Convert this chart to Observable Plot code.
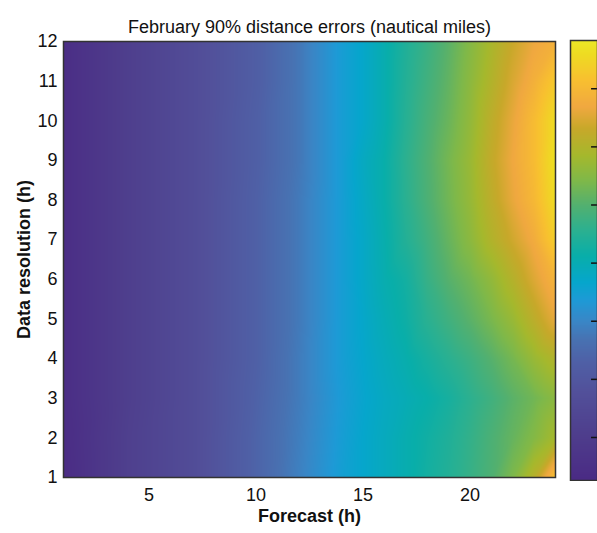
<!DOCTYPE html>
<html>
<head>
<meta charset="utf-8">
<script src="https://cdn.jsdelivr.net/npm/d3@7"></script>
<script src="https://cdn.jsdelivr.net/npm/@observablehq/plot@0.6"></script>
<style>
  html, body { margin: 0; padding: 0; background: #fff; }
  #chart { position: relative; width: 597px; height: 533px; overflow: hidden; }
  #chart svg { position: absolute; }
</style>
</head>
<body>
<div id="chart"></div>
<script>
// ---- data ----
const chartTitle = "February 90% distance errors (nautical miles)";
const xLabel = "Forecast (h)";
const yLabel = "Data resolution (h)";

const forecastHours = [1, 4, 7, 10, 12, 14, 15, 16, 17, 18, 19, 20, 21, 22, 23, 24];
const resolutionHours = [1, 2, 3, 4, 5, 6, 7, 8, 9, 10, 11, 12];

// one row per data resolution (1 h ... 12 h), one value per forecast hour
const errorsRes1  = [13.4, 21.3, 26.2, 33.8, 39.1, 44.8, 46.7, 48.6, 50.5, 52.7, 54.6, 56.9, 59.5, 64.1, 70.9, 82.2];
const errorsRes2  = [13.7, 21.3, 26.2, 33.8, 38.7, 44.4, 46.7, 48.6, 50.5, 52.3, 54.2, 56.5, 59.2, 61.8, 64.8, 68.6];
const errorsRes3  = [14.1, 20.9, 26.2, 33.4, 38.3, 44.0, 46.3, 48.2, 49.7, 51.2, 53.1, 55.7, 58.0, 60.7, 62.9, 65.6];
const errorsRes4  = [14.1, 20.9, 26.2, 33.0, 38.3, 44.4, 46.7, 48.9, 50.8, 53.1, 55.4, 57.6, 60.3, 63.3, 67.1, 70.1];
const errorsRes5  = [14.1, 20.9, 26.2, 33.0, 38.0, 44.4, 47.0, 49.7, 52.0, 55.4, 58.0, 60.7, 63.7, 67.1, 71.6, 76.2];
const errorsRes6  = [14.1, 20.9, 26.2, 33.0, 38.0, 44.4, 47.4, 50.5, 52.7, 56.9, 60.3, 62.9, 66.3, 70.5, 75.1, 79.2];
const errorsRes7  = [14.1, 20.9, 26.2, 33.0, 38.0, 44.4, 47.4, 50.8, 54.6, 58.0, 61.8, 65.6, 70.1, 73.9, 77.7, 83.8];
const errorsRes8  = [14.1, 20.9, 26.2, 33.0, 38.0, 44.4, 47.8, 51.2, 55.4, 59.2, 62.9, 66.7, 71.6, 76.2, 80.0, 86.0];
const errorsRes9  = [14.1, 20.9, 26.2, 32.7, 37.6, 44.4, 48.2, 51.2, 55.7, 59.5, 63.3, 67.1, 72.4, 76.9, 80.7, 86.8];
const errorsRes10 = [14.1, 20.9, 26.2, 32.7, 37.6, 44.4, 47.0, 50.5, 55.0, 58.8, 62.2, 66.3, 71.6, 76.2, 80.7, 86.0];
const errorsRes11 = [14.1, 20.9, 26.2, 32.3, 37.6, 44.4, 47.0, 50.5, 54.6, 58.0, 61.4, 65.6, 70.1, 74.7, 78.5, 83.0];
const errorsRes12 = [14.1, 20.9, 26.2, 32.3, 37.6, 44.4, 47.0, 50.5, 54.2, 57.3, 60.7, 64.8, 69.0, 73.2, 76.6, 78.5];
const errorRows = [errorsRes1, errorsRes2, errorsRes3, errorsRes4, errorsRes5, errorsRes6,
                   errorsRes7, errorsRes8, errorsRes9, errorsRes10, errorsRes11, errorsRes12];

const xTicks = [5, 10, 15, 20];
const yTicks = [1, 2, 3, 4, 5, 6, 7, 8, 9, 10, 11, 12];
const colorbarTicks = [20, 30, 40, 50, 60, 70, 80];

// parula-like colour map (stops in nautical miles)
const colorStopValues = [12.6, 20.2, 27.7, 33.0, 36.8, 39.9, 43.6, 46.7, 51.2, 55.7, 59.9, 64.1, 68.6, 73.2, 76.9, 81.5, 86.0, 88.3];
const colorStopHex = ["#4a2a84", "#4e3d8c", "#52509a", "#4f60a6", "#4872b2", "#3a86c6", "#1e9ad6", "#06a6cc",
                      "#08aeaa", "#2cb090", "#52b070", "#7eb84a", "#a6b82c", "#c8a82a", "#f0a840", "#f8c030",
                      "#eedc22", "#ece826"];

// ---- build ----
const cells = resolutionHours.flatMap((r, i) =>
  forecastHours.map((f, j) => ({forecast: f, resolution: r, error: errorRows[i][j]})));

const font = "'Liberation Sans', Arial, Helvetica, sans-serif";
const colorScale = {type: "linear", domain: colorStopValues, range: colorStopHex};

const main = Plot.plot({
  width: 597,
  height: 533,
  marginLeft: 63,
  marginRight: 42,
  marginTop: 41,
  marginBottom: 56,
  style: {fontFamily: font, fontSize: "18px", background: "transparent", color: "#111"},
  x: {domain: [1, 24]},
  y: {domain: [1, 12]},
  color: colorScale,
  marks: [
    Plot.raster(cells, {x: "forecast", y: "resolution", fill: "error", interpolate: "barycentric"}),
    Plot.frame({stroke: "#333", strokeWidth: 1.5}),
    Plot.axisX({ticks: xTicks, tickSize: 0, tickPadding: 11, label: null, fontSize: 18}),
    Plot.axisY({ticks: yTicks, tickSize: 0, tickPadding: 6, label: null, fontSize: 18}),
    Plot.text([xLabel], {frameAnchor: "bottom", dy: 44, textAnchor: "middle", fontWeight: "bold", fontSize: 18}),
    Plot.text([yLabel], {frameAnchor: "left", dx: -39, rotate: -90, textAnchor: "middle", fontWeight: "bold", fontSize: 18}),
    Plot.text([chartTitle], {frameAnchor: "top", dy: -21, textAnchor: "middle", fontSize: 18})
  ]
});

const bar = Plot.plot({
  width: 29,
  height: 442,
  margin: 1,
  style: {background: "transparent"},
  x: {domain: [0, 1], axis: null},
  y: {domain: [colorStopValues[0], colorStopValues[colorStopValues.length - 1]], axis: null},
  color: colorScale,
  marks: [
    Plot.raster({x1: 0, x2: 1, y1: colorStopValues[0], y2: colorStopValues[colorStopValues.length - 1],
                 fill: (x, y) => y}),
    Plot.ruleY(colorbarTicks, {x1: 0.78, x2: 1, stroke: "#111", strokeWidth: 1.5}),
    Plot.frame({stroke: "#333", strokeWidth: 1.5})
  ]
});

const root = document.getElementById("chart");
main.style.left = "0px"; main.style.top = "0px";
bar.style.left = "569px"; bar.style.top = "39px";
root.appendChild(main);
root.appendChild(bar);
</script>
</body>
</html>
